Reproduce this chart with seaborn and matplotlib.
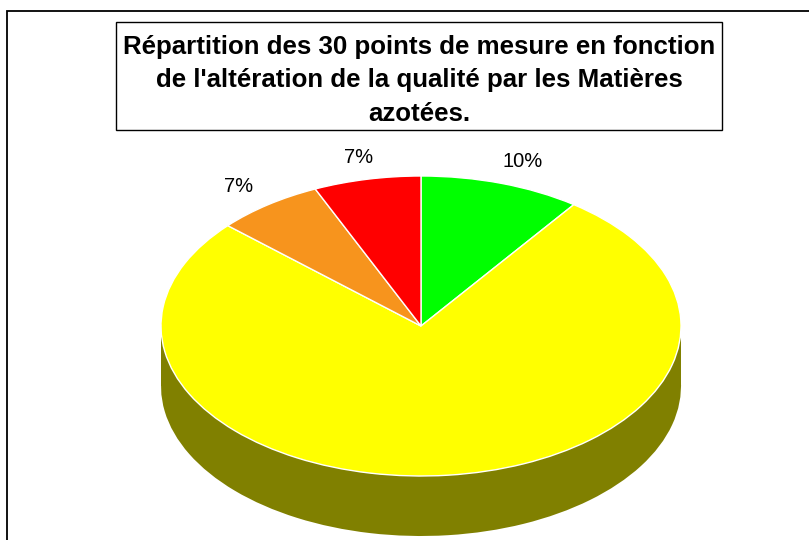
import numpy as np
import matplotlib
matplotlib.use("Agg")
import matplotlib.pyplot as plt
import seaborn as sns
from matplotlib.patches import Rectangle

# ---- data ----
categories = ["Bonne", "Passable", "Mauvaise", "Très mauvaise"]
counts = [3, 23, 2, 2]            # 30 points de mesure
pct_labels = ["10%", "", "7%", "7%"]
top_colors = ["#00FF00", "#FFFF00", "#F7941D", "#FF0000"]
side_colors = ["#008000", "#808000", "#7B4A0E", "#800000"]
title = ("Répartition des 30 points de mesure en fonction\n"
         "de l'altération de la qualité par les Matières\n"
         "azotées.")

sns.set_theme(style="white")
plt.rcParams['font.family'] = ['Liberation Sans', 'DejaVu Sans']

W, H = 809, 540
fig = plt.figure(figsize=(W / 100, H / 100), dpi=100)
fig.patch.set_facecolor("white")

ax = fig.add_axes([0, 0, 1, 1])
ax.set_axis_off()

cx, cy, rx, ry = 421, 326, 260, 150
depth = 60 / ry

# side (extrusion)
ax.pie(counts, colors=side_colors, startangle=90, counterclock=False,
       center=(0, -depth), radius=1,
       wedgeprops=dict(linewidth=0, zorder=1))
ax.fill_between([-1, 1], [-depth, -depth], [0, 0], color="#808000",
                linewidth=0, zorder=1.5)
# top
wedges, _ = ax.pie(counts, colors=top_colors, startangle=90, counterclock=False,
                   center=(0, 0), radius=1,
                   wedgeprops=dict(edgecolor="white", linewidth=1, zorder=2))

for w, lab in zip(wedges, pct_labels):
    if not lab:
        continue
    th = np.deg2rad((w.theta1 + w.theta2) / 2)
    ax.text(1.22 * np.cos(th) + 4 / rx, 1.15 * np.sin(th), lab,
            ha="center", va="center", fontsize=14.5, color="black", zorder=3)

ax.set_aspect("auto")
ax.set_xlim(-cx / rx, (W - cx) / rx)
ax.set_ylim(-(H - cy) / ry, cy / ry)

# outer chart frame (extends beyond image on right/bottom)
fig.add_artist(Rectangle((7 / W, -0.1), 1.2, (H - 11) / H + 0.1,
                         transform=fig.transFigure, fill=False,
                         edgecolor="black", linewidth=1.3))
# title box
fig.add_artist(Rectangle((116 / W, (H - 130) / H), 606 / W, 108 / H,
                         transform=fig.transFigure, facecolor="white",
                         edgecolor="black", linewidth=1))
fig.text(419 / W, (H - 80.5) / H, title, ha="center", va="center",
         fontsize=18.6, fontweight="bold", linespacing=1.5, color="black")

fig.savefig("out.png", dpi=100)
